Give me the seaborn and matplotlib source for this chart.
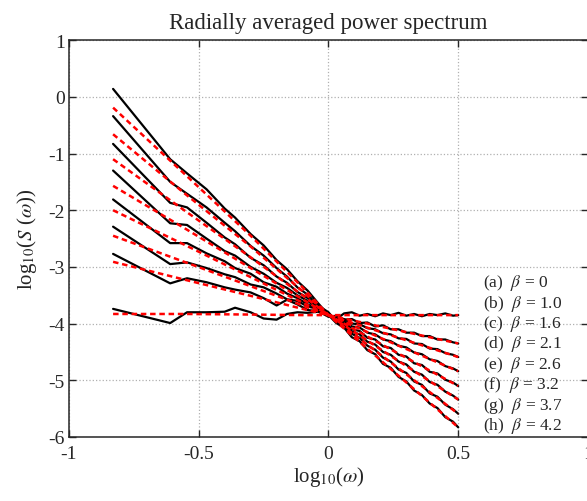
import pandas as pd
import seaborn as sns
import matplotlib.pyplot as plt

# log10(omega) sample positions of the measured spectra
log_w = [-0.83, -0.61, -0.545, -0.47, -0.40, -0.36, -0.30, -0.25, -0.20, -0.16,
         -0.12, -0.08, -0.04, 0.0, 0.03, 0.06, 0.09, 0.12, 0.15, 0.18, 0.21,
         0.24, 0.27, 0.30, 0.33, 0.36, 0.39, 0.42, 0.45, 0.48, 0.50]

# measured log10(S) for each surface (black curves)
spec_a = [-3.74, -3.99, -3.80, -3.80, -3.79, -3.72, -3.80, -3.91, -3.93, -3.83,
          -3.80, -3.81, -3.79, -3.86, -3.92, -3.82, -3.80, -3.86, -3.83, -3.87, -3.82,
          -3.85, -3.81, -3.86, -3.83, -3.87, -3.83, -3.85, -3.82, -3.86, -3.85]
spec_b = [-2.77, -3.29, -3.20, -3.27, -3.36, -3.40, -3.45, -3.55, -3.68, -3.58,
          -3.66, -3.76, -3.78, -3.88, -3.86, -3.93, -3.92, -3.99, -3.98, -4.05, -4.03,
          -4.10, -4.10, -4.16, -4.16, -4.22, -4.22, -4.28, -4.28, -4.33, -4.35]
spec_c = [-2.29, -2.95, -2.92, -3.02, -3.13, -3.18, -3.31, -3.36, -3.47, -3.57,
          -3.60, -3.70, -3.74, -3.86, -3.90, -3.92, -4.00, -4.01, -4.08, -4.10, -4.17,
          -4.19, -4.26, -4.27, -4.35, -4.36, -4.44, -4.45, -4.52, -4.55, -4.59]
spec_d = [-1.81, -2.58, -2.58, -2.76, -2.90, -3.02, -3.12, -3.27, -3.35, -3.47,
          -3.55, -3.66, -3.73, -3.84, -3.92, -3.95, -4.05, -4.07, -4.16, -4.19, -4.28,
          -4.31, -4.39, -4.42, -4.51, -4.54, -4.63, -4.66, -4.75, -4.79, -4.84]
spec_e = [-1.30, -2.23, -2.26, -2.50, -2.72, -2.80, -3.00, -3.12, -3.28, -3.37,
          -3.50, -3.60, -3.73, -3.82, -3.95, -3.98, -4.10, -4.13, -4.25, -4.28, -4.40,
          -4.43, -4.55, -4.58, -4.70, -4.73, -4.85, -4.88, -4.99, -5.04, -5.10]
spec_f = [-0.83, -1.87, -1.95, -2.22, -2.48, -2.60, -2.84, -2.97, -3.17, -3.28,
          -3.44, -3.55, -3.71, -3.82, -3.96, -4.01, -4.14, -4.19, -4.32, -4.37, -4.50,
          -4.55, -4.67, -4.72, -4.85, -4.90, -5.03, -5.08, -5.20, -5.27, -5.34]
spec_g = [-0.34, -1.50, -1.71, -1.95, -2.22, -2.37, -2.63, -2.80, -3.02, -3.17,
          -3.36, -3.49, -3.68, -3.80, -3.97, -4.04, -4.18, -4.25, -4.39, -4.46, -4.60,
          -4.67, -4.81, -4.87, -5.02, -5.08, -5.23, -5.29, -5.43, -5.51, -5.59]
spec_h = [0.14, -1.10, -1.35, -1.63, -1.97, -2.13, -2.42, -2.62, -2.88, -3.04,
          -3.25, -3.42, -3.64, -3.85, -3.99, -4.07, -4.24, -4.31, -4.47, -4.54, -4.71,
          -4.78, -4.94, -5.02, -5.18, -5.26, -5.41, -5.49, -5.65, -5.73, -5.83]

# fitted spectra (red dashed)
fit_x = [-0.83, -0.55, -0.30, -0.10, 0.0, 0.25, 0.50]
fit_a = [-3.83, -3.83, -3.84, -3.85, -3.85, -3.85, -3.85]
fit_b = [-2.91, -3.23, -3.51, -3.74, -3.85, -4.10, -4.35]
fit_c = [-2.45, -2.92, -3.34, -3.68, -3.85, -4.22, -4.59]
fit_d = [-2.00, -2.62, -3.18, -3.63, -3.85, -4.35, -4.84]
fit_e = [-1.57, -2.33, -3.02, -3.57, -3.85, -4.48, -5.10]
fit_f = [-1.10, -2.02, -2.83, -3.50, -3.85, -4.60, -5.34]
fit_g = [-0.66, -1.72, -2.64, -3.43, -3.85, -4.72, -5.59]
fit_h = [-0.19, -1.38, -2.45, -3.36, -3.85, -4.84, -5.83]

cases = ['(a)', '(b)', '(c)', '(d)', '(e)', '(f)', '(g)', '(h)']
betas = ['0', '1.0', '1.6', '2.1', '2.6', '3.2', '3.7', '4.2']
x_ticks = [-1, -0.5, 0, 0.5, 1]
x_tick_labels = ['-1', '-0.5', '0', '0.5', '1']
y_ticks = [-6, -5, -4, -3, -2, -1, 0, 1]
y_tick_labels = ['-6', '-5', '-4', '-3', '-2', '-1', '0', '1']

if __name__ == '__main__':
    spectra = [spec_a, spec_b, spec_c, spec_d, spec_e, spec_f, spec_g, spec_h]
    fits = [fit_a, fit_b, fit_c, fit_d, fit_e, fit_f, fit_g, fit_h]

    measured = pd.concat([pd.DataFrame({'log_w': log_w, 'log_S': s, 'case': c})
                          for s, c in zip(spectra, cases)], ignore_index=True)
    fitted = pd.concat([pd.DataFrame({'log_w': fit_x, 'log_S': f, 'case': c})
                        for f, c in zip(fits, cases)], ignore_index=True)

    sns.set_style('ticks')
    plt.rcParams['font.family'] = ['Liberation Serif', 'DejaVu Serif']
    plt.rcParams['mathtext.fontset'] = 'stix'
    plt.rcParams['axes.unicode_minus'] = False

    fig, ax = plt.subplots(figsize=(5.87, 5.02), dpi=100)
    fig.subplots_adjust(left=0.1175, right=1.0017, top=0.918, bottom=0.1275)

    sns.lineplot(data=measured, x='log_w', y='log_S', units='case', estimator=None,
                 sort=False, color='black', linewidth=1.6, ax=ax)
    sns.lineplot(data=fitted, x='log_w', y='log_S', units='case', estimator=None,
                 sort=False, color='red', linewidth=1.8, linestyle=(0, (2.2, 1.5)), ax=ax)

    ax.set_xlim(-1, 1)
    ax.set_ylim(-6, 1)
    ax.set_xticks(x_ticks)
    ax.set_xticklabels(x_tick_labels)
    ax.set_yticks(y_ticks)
    ax.set_yticklabels(y_tick_labels)
    ax.tick_params(direction='in', top=True, right=True, length=5, width=1,
                   labelsize=14, pad=3)
    ax.tick_params(axis='x', pad=6)
    ax.grid(True, linestyle=':', color='#b0b0b0', linewidth=0.9)
    for sp in ax.spines.values():
        sp.set_linewidth(1.1)

    ax.set_title('Radially averaged power spectrum', fontsize=16.5, pad=9)
    ax.set_xlabel(r'log$_{10}$($\omega$)', fontsize=15, labelpad=1)
    ax.set_ylabel(r'log$_{10}$($S$ ($\omega$))', fontsize=15, labelpad=7)

    for i, (c, b) in enumerate(zip(cases, betas)):
        ax.text(0.596, -3.27 - 0.36 * i, f'{c}  $\\beta$ = {b}', fontsize=12.5,
                va='center', ha='left')

    plt.savefig('out.png', dpi=100)
